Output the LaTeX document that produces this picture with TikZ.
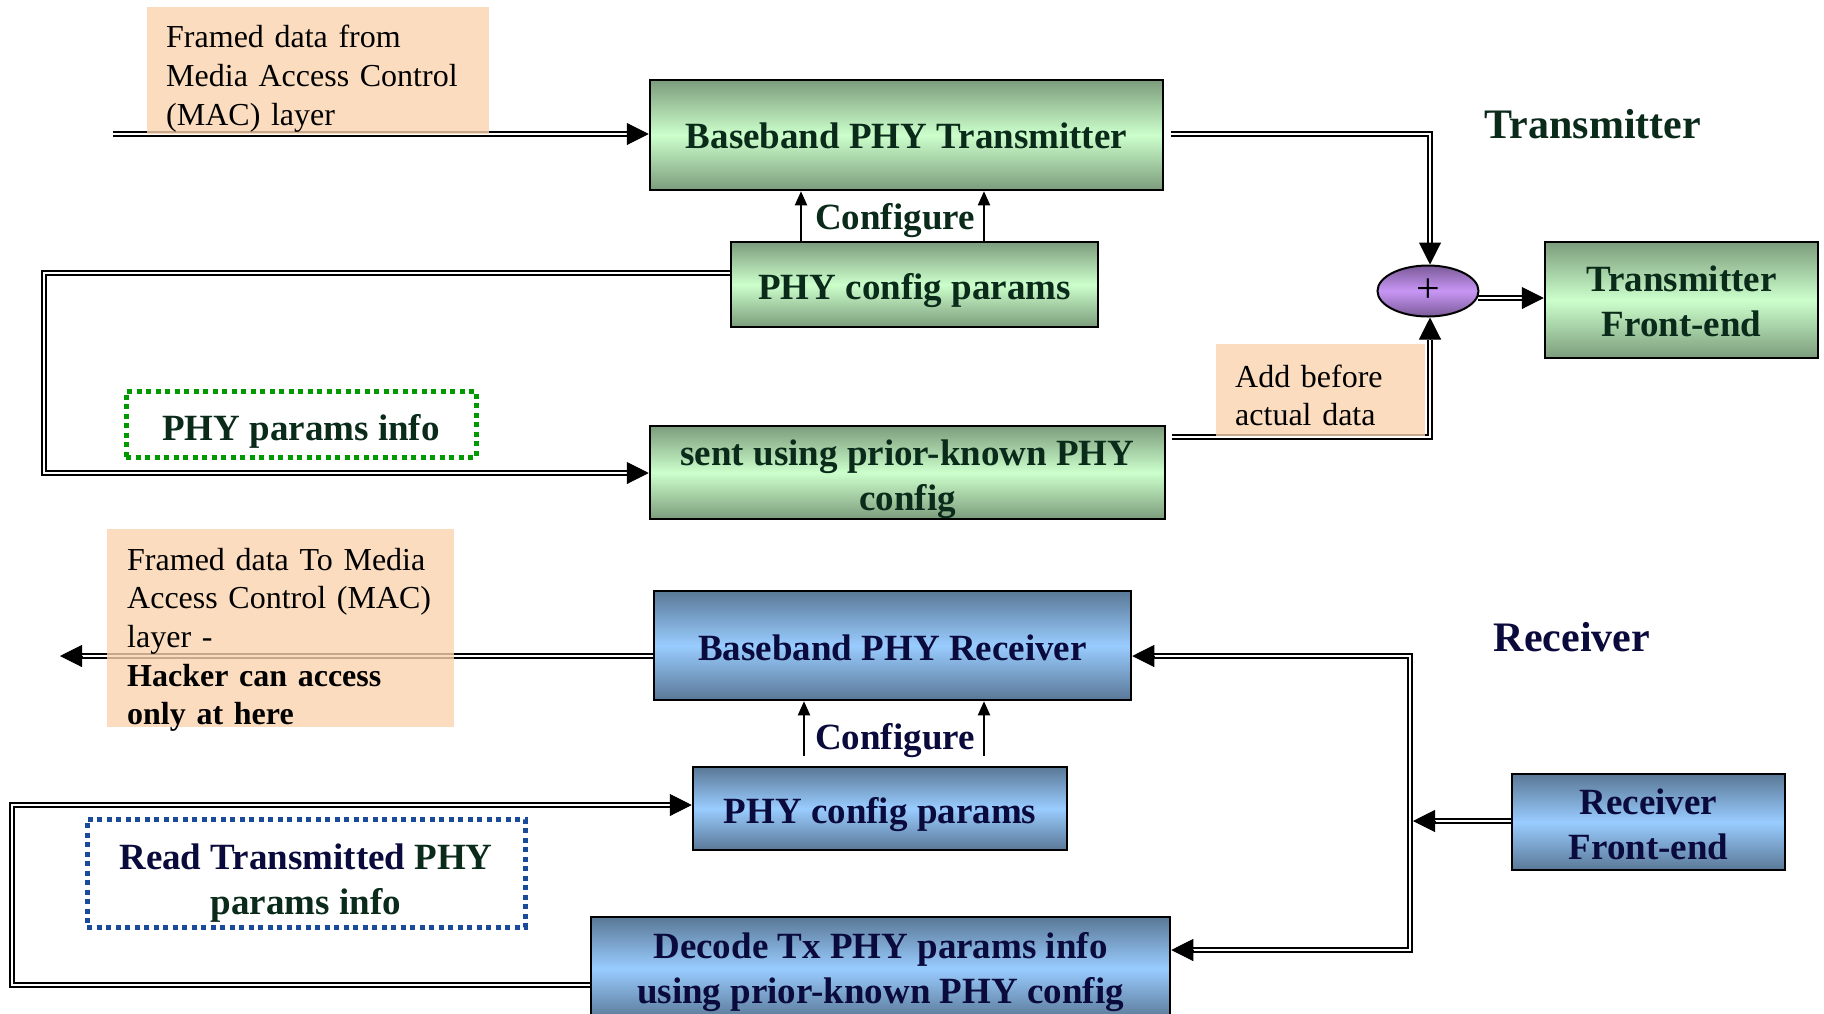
\documentclass[tikz,border=0pt]{standalone}
\usepackage{fontspec}
\setmainfont{Liberation Serif}
\usetikzlibrary{arrows.meta,calc,shapes.geometric}
\definecolor{gdark}{HTML}{7C9C7C}
\definecolor{glight}{HTML}{CCFFCC}
\definecolor{bdark}{HTML}{5A7896}
\definecolor{blight}{HTML}{99CCFF}
\definecolor{pdark}{HTML}{7A5A98}
\definecolor{plight}{HTML}{C896F5}
\definecolor{notec}{HTML}{FBD3AE}
\definecolor{txt}{HTML}{0A2A1A}
\definecolor{rxt}{HTML}{0A0A3C}
\definecolor{dotg}{HTML}{009900}
\definecolor{dotb}{HTML}{1A4A9A}
\tikzset{
  boxfont/.style={font=\bfseries\fontsize{37}{45}\selectfont},
  gbox/.style={draw=black, line width=2.5pt, top color=gdark, bottom color=gdark, middle color=glight, inner sep=0pt},
  bbox/.style={draw=black, line width=2.5pt, top color=bdark, bottom color=bdark, middle color=blight, inner sep=0pt},
  gtext/.style={text=txt, boxfont, align=center, inner sep=0pt},
  btext/.style={text=rxt, boxfont, align=center, inner sep=0pt},
  dbl/.style={draw=black, line width=2pt, double=white, double distance=2.5pt, line join=miter},
  bigtip/.style={draw=black, line width=1pt, -{Triangle[length=22pt,width=22pt]}},
  smalltip/.style={draw=black, line width=2pt, -{Triangle[length=14pt,width=12pt]}},
  notebg/.style={fill=notec, fill opacity=0.8, inner sep=0pt, anchor=north west},
  notetext/.style={text=black, font=\fontsize{32}{38.6}\selectfont, align=left, inner sep=0pt, anchor=west},
  dotbox/.style={line width=5pt, dash pattern=on 5pt off 4.5pt, inner sep=0pt},
  heading/.style={font=\bfseries\fontsize{42}{50}\selectfont},
}
\begin{document}
\begin{tikzpicture}[x=1pt,y=-1pt]
\useasboundingbox (0,0) rectangle (1824,1013);

% ---------------- Transmitter ----------------
\node[gbox, minimum width=513pt, minimum height=110pt] (bbt) at (906.5,135) {};
\node[gtext] (bbtT) at ($(bbt.center)+(0,1.2)$) {Baseband PHY Transmitter};
\node[gbox, minimum width=367pt, minimum height=85pt] (pcpT) at (914.5,284.5) {};
\node[gtext] (pcpTT) at ($(pcpT.center)+(0,5.8)$) {PHY config params};
\node[gbox, minimum width=515pt, minimum height=93pt] (sent) at (907.5,472.5) {};
\node[gtext] (sentT) at ($(sent.center)+(0,6.4)$) {sent using prior-known PHY\\config};
\node[gbox, minimum width=273pt, minimum height=116pt] (tfe) at (1681.5,300) {};
\node[gtext] (tfeT) at ($(tfe.center)+(0,1.7)$) {Transmitter\\Front-end};
\node[ellipse, draw=black, line width=2pt, minimum width=101pt, minimum height=51pt, inner sep=0pt,
      top color=pdark, bottom color=pdark, middle color=plight, font=\fontsize{42}{42}\selectfont] (ell) at (1428,291) {+};
\node[dotbox, draw=dotg, minimum width=350pt, minimum height=66pt] (ppi) at (301,424) {};
\node[gtext] (ppiT) at ($(ppi.center)+(0,7)$) {PHY params info};
\node[heading, text=txt] (txh) at (1593,124) {Transmitter};
\node[gtext] (cfgT) at (895,221) {Configure};

% MAC input
\coordinate (macin) at (113,134);
\draw[dbl] (macin) -- ($(bbt.west |- macin)+(-22,0)$);
\draw[bigtip] ($(bbt.west |- macin)+(-22,0)$) -- (bbt.west |- macin);

% configure arrows
\path ($(pcpT.north)+(-113.5,0)$) coordinate (ca1);
\path ($(pcpT.north)+(69.5,0)$) coordinate (ca2);
\draw[smalltip] (ca1) -- (ca1 |- bbt.south);
\draw[smalltip] (ca2) -- (ca2 |- bbt.south);

% top right to adder
\coordinate (tr1) at (1430,134);
\draw[dbl] ($(bbt.east |- tr1)+(7,0)$) -- (tr1) -- ($(tr1 |- ell.north)+(0,-22)$);
\draw[bigtip] ($(tr1 |- ell.north)+(0,-22)$) -- (tr1 |- ell.north);

% bottom right to adder
\coordinate (br1) at (1430,437);
\draw[dbl] ($(sent.east |- br1)+(6,0)$) -- (br1) -- ($(br1 |- ell.south)+(0,22)$);
\draw[bigtip] ($(br1 |- ell.south)+(0,22)$) -- (br1 |- ell.south);

% adder to front end
\coordinate (ea) at (1478,298);
\draw[dbl] (ea) -- ($(tfe.west |- ea)+(-22,0)$);
\draw[bigtip] ($(tfe.west |- ea)+(-22,0)$) -- (tfe.west |- ea);

% left loop
\coordinate (l1) at (44,273);
\coordinate (l2) at (44,473);
\draw[dbl] (pcpT.west |- l1) -- (l1) -- (l2) -- ($(sent.west |- l2)+(-22,0)$);
\draw[bigtip] ($(sent.west |- l2)+(-22,0)$) -- (sent.west |- l2);

% notes
\node[notebg, minimum height=127pt, minimum width=342pt] (n1) at (147,7) {};
\node[notetext, text width=304pt] (n1T) at ($(n1.west)+(19,8)$)
  {Framed data from\\Media Access Control\\(MAC) layer};
\node[notebg, minimum height=92pt, minimum width=209pt] (n2) at (1216,344) {};
\node[notetext, text width=171pt] (n2T) at ($(n2.west)+(19,5)$)
  {Add before\\actual data};

% ---------------- Receiver ----------------
\node[bbox, minimum width=477pt, minimum height=109pt] (bbr) at (892.5,645.5) {};
\node[btext] (bbrT) at ($(bbr.center)+(0,2.3)$) {Baseband PHY Receiver};
\node[bbox, minimum width=374pt, minimum height=83pt] (pcpR) at (880,808.5) {};
\node[btext] (pcpRT) at ($(pcpR.center)+(0,5.8)$) {PHY config params};
\node[bbox, minimum width=579pt, minimum height=103pt] (dec) at (880.5,968.5) {};
\node[btext] (decT) at ($(dec.center)+(0,3.5)$) {Decode Tx PHY params info\\using prior-known PHY config};
\node[bbox, minimum width=273pt, minimum height=96pt] (rfe) at (1648.5,822) {};
\node[btext] (rfeT) at ($(rfe.center)+(0,2.3)$) {Receiver\\Front-end};
\node[dotbox, draw=dotb, minimum width=438pt, minimum height=108pt] (rtp) at (306,873) {};
\node[btext] (rtpT) at ($(rtp.center)+(0,10.5)$)
  {\textcolor{rxt}{Read Transmitted} \textcolor{txt}{PHY}\\\textcolor{txt}{params info}};
\node[heading, text=rxt] (rxh) at (1572,637) {Receiver};
\node[btext] (cfgR) at (895,741) {Configure};

% configure arrows
\path ($(pcpR.north)+(-76,-10)$) coordinate (cb1);
\path ($(pcpR.north)+(104,-10)$) coordinate (cb2);
\draw[smalltip] (cb1) -- (cb1 |- bbr.south);
\draw[smalltip] (cb2) -- (cb2 |- bbr.south);

% right bus
\coordinate (rv1) at (1410,656);
\coordinate (rv2) at (1410,950);
\draw[dbl] ($(bbr.east |- rv1)+(22,0)$) -- (rv1) -- (rv2) -- ($(dec.east |- rv2)+(22,0)$);
\draw[bigtip] ($(bbr.east |- rv1)+(22,0)$) -- (bbr.east |- rv1);
\draw[bigtip] ($(dec.east |- rv2)+(22,0)$) -- (dec.east |- rv2);
\coordinate (rf) at (1413,821);
\draw[dbl] (rfe.west |- rf) -- ($(rf)+(22,0)$);
\draw[bigtip] ($(rf)+(22,0)$) -- (rf);

% output to MAC
\coordinate (rxout) at (60,656);
\draw[dbl] (bbr.west |- rxout) -- ($(rxout)+(22,0)$);
\draw[bigtip] ($(rxout)+(22,0)$) -- (rxout);

% left loop
\coordinate (q1) at (12,985);
\coordinate (q2) at (12,805);
\draw[dbl] (dec.west |- q1) -- (q1) -- (q2) -- ($(pcpR.west |- q2)+(-22,0)$);
\draw[bigtip] ($(pcpR.west |- q2)+(-22,0)$) -- (pcpR.west |- q2);

% note
\node[notebg, minimum height=198pt, minimum width=347pt] (n3) at (107,529) {};
\node[notetext, text width=307pt] (n3T) at ($(n3.west)+(20,11.6)$)
  {Framed data To Media\\Access Control (MAC)\\layer -\\\textbf{Hacker can access}\\\textbf{only at here}};
\end{tikzpicture}
\end{document}
